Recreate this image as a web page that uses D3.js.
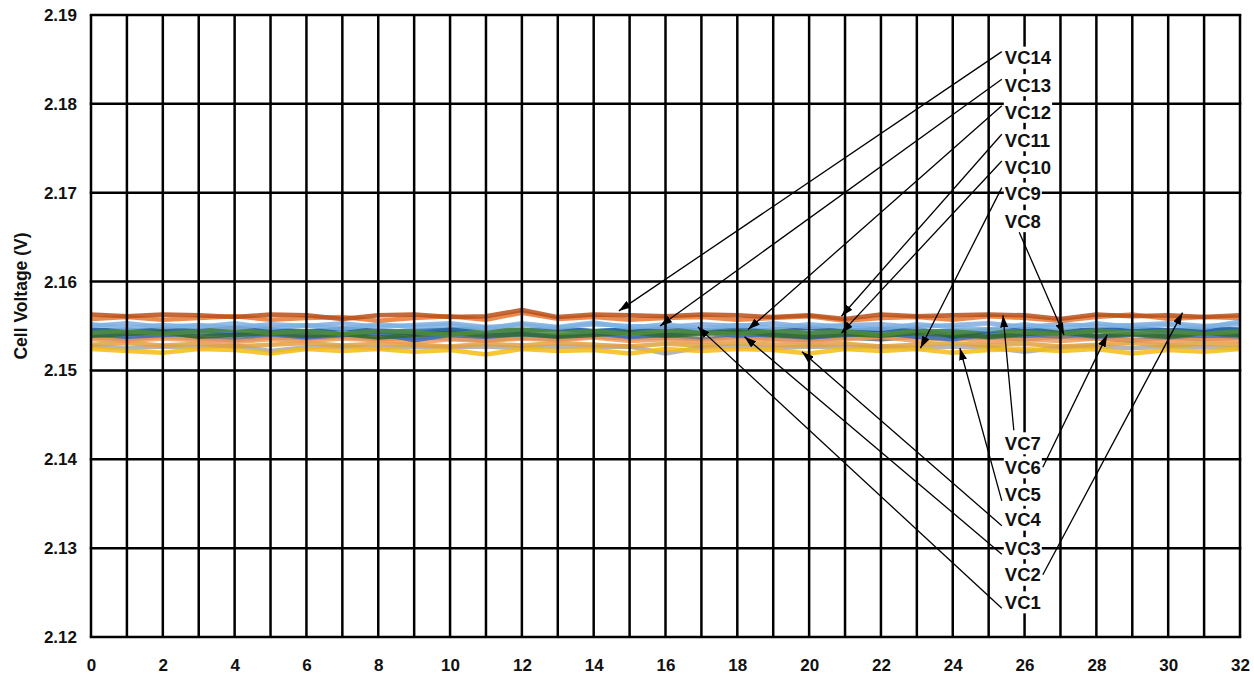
<!DOCTYPE html>
<html><head><meta charset="utf-8">
<script src="https://cdn.jsdelivr.net/npm/d3@7"></script>
<style>
body{margin:0;background:#fff}
svg{display:block}
text{font-family:"Liberation Sans",Arial,Helvetica,sans-serif;font-weight:bold;fill:#111}
</style>
</head><body>
<svg id="chart" width="1254" height="675"></svg>
<script>
// ---------- data ----------
const hours = [0,1,2,3,4,5,6,7,8,9,10,11,12,13,14,15,16,17,18,19,20,21,22,23,24,25,26,27,28,29,30,31,32];
const xTickValues = [0,2,4,6,8,10,12,14,16,18,20,22,24,26,28,30,32];
const yTickValues = [2.12,2.13,2.14,2.15,2.16,2.17,2.18,2.19];
const xGridValues = hours;

const seriesNames = ["VC1","VC2","VC3","VC4","VC5","VC6","VC7","VC8","VC9","VC10","VC11","VC12","VC13","VC14"];
const seriesColors = ["#3e6fc0","#e9772f","#a9a9a9","#f6bc12","#7eb2e2","#4f8c3a","#1e4d8e","#b8501a","#6b6b6b","#e3a13a","#2a6aa8","#2f6a2c","#84abe0","#f19a5c"];

const VC1  = [2.1541,2.1538,2.1540,2.1542,2.1539,2.1541,2.1537,2.1540,2.1542,2.1534,2.1540,2.1538,2.1541,2.1539,2.1542,2.1538,2.1540,2.1543,2.1539,2.1541,2.1537,2.1540,2.1542,2.1538,2.1535,2.1541,2.1539,2.1542,2.1538,2.1540,2.1541,2.1539,2.1540];
const VC2  = [2.1558,2.1560,2.1557,2.1559,2.1561,2.1557,2.1559,2.1560,2.1556,2.1559,2.1561,2.1557,2.1565,2.1558,2.1560,2.1557,2.1559,2.1560,2.1557,2.1559,2.1561,2.1556,2.1559,2.1560,2.1557,2.1561,2.1559,2.1556,2.1560,2.1563,2.1558,2.1560,2.1559];
const VC3  = [2.1527,2.1525,2.1527,2.1526,2.1528,2.1522,2.1526,2.1527,2.1525,2.1527,2.1526,2.1527,2.1525,2.1527,2.1526,2.1527,2.1519,2.1526,2.1527,2.1525,2.1527,2.1526,2.1527,2.1525,2.1527,2.1526,2.1521,2.1526,2.1527,2.1525,2.1527,2.1526,2.1525];
const VC4  = [2.1524,2.1522,2.1520,2.1524,2.1523,2.1519,2.1524,2.1522,2.1524,2.1521,2.1523,2.1518,2.1524,2.1522,2.1523,2.1519,2.1524,2.1522,2.1524,2.1523,2.1519,2.1524,2.1522,2.1524,2.1520,2.1523,2.1524,2.1522,2.1524,2.1519,2.1523,2.1521,2.1524];
const VC5  = [2.1552,2.1548,2.1551,2.1549,2.1553,2.1548,2.1551,2.1547,2.1552,2.1549,2.1551,2.1547,2.1553,2.1549,2.1554,2.1548,2.1552,2.1547,2.1551,2.1548,2.1552,2.1549,2.1547,2.1552,2.1549,2.1546,2.1552,2.1547,2.1553,2.1549,2.1551,2.1548,2.1555];
const VC6  = [2.1542,2.1545,2.1541,2.1544,2.1546,2.1542,2.1544,2.1541,2.1545,2.1543,2.1540,2.1544,2.1546,2.1542,2.1544,2.1541,2.1545,2.1543,2.1541,2.1545,2.1542,2.1544,2.1540,2.1545,2.1542,2.1546,2.1543,2.1541,2.1545,2.1542,2.1544,2.1541,2.1544];
const VC7  = [2.1546,2.1544,2.1547,2.1545,2.1548,2.1546,2.1543,2.1547,2.1545,2.1541,2.1546,2.1548,2.1545,2.1547,2.1544,2.1546,2.1548,2.1545,2.1542,2.1546,2.1548,2.1544,2.1546,2.1547,2.1538,2.1545,2.1547,2.1544,2.1546,2.1548,2.1545,2.1547,2.1546];
const VC8  = [2.1563,2.1561,2.1563,2.1562,2.1560,2.1563,2.1562,2.1558,2.1562,2.1563,2.1560,2.1561,2.1568,2.1560,2.1563,2.1562,2.1561,2.1563,2.1562,2.1560,2.1562,2.1558,2.1563,2.1561,2.1562,2.1563,2.1562,2.1558,2.1563,2.1561,2.1562,2.1560,2.1562];
const VC9  = [2.1537,2.1535,2.1538,2.1536,2.1534,2.1537,2.1536,2.1538,2.1535,2.1537,2.1536,2.1534,2.1537,2.1535,2.1538,2.1536,2.1537,2.1535,2.1538,2.1536,2.1534,2.1537,2.1535,2.1538,2.1536,2.1537,2.1535,2.1538,2.1536,2.1534,2.1537,2.1535,2.1537];
const VC10 = [2.1529,2.1531,2.1528,2.1530,2.1527,2.1529,2.1531,2.1528,2.1530,2.1529,2.1527,2.1530,2.1528,2.1531,2.1529,2.1527,2.1530,2.1528,2.1531,2.1529,2.1528,2.1530,2.1527,2.1529,2.1531,2.1528,2.1530,2.1527,2.1529,2.1531,2.1528,2.1530,2.1529];
const VC11 = [2.1544,2.1546,2.1543,2.1545,2.1542,2.1546,2.1544,2.1547,2.1543,2.1545,2.1546,2.1543,2.1545,2.1547,2.1544,2.1546,2.1543,2.1545,2.1547,2.1544,2.1542,2.1545,2.1547,2.1543,2.1545,2.1544,2.1546,2.1543,2.1545,2.1547,2.1544,2.1546,2.1545];
const VC12 = [2.1539,2.1541,2.1543,2.1538,2.1540,2.1542,2.1539,2.1541,2.1537,2.1540,2.1542,2.1539,2.1541,2.1538,2.1540,2.1543,2.1539,2.1541,2.1544,2.1540,2.1538,2.1541,2.1539,2.1542,2.1540,2.1538,2.1541,2.1543,2.1539,2.1541,2.1538,2.1542,2.1540];
const VC13 = [2.1550,2.1553,2.1549,2.1551,2.1548,2.1552,2.1550,2.1553,2.1549,2.1551,2.1553,2.1549,2.1551,2.1548,2.1552,2.1550,2.1549,2.1552,2.1550,2.1553,2.1549,2.1551,2.1552,2.1549,2.1551,2.1553,2.1549,2.1552,2.1550,2.1551,2.1553,2.1550,2.1552];
const VC14 = [2.1535,2.1533,2.1536,2.1534,2.1532,2.1535,2.1533,2.1536,2.1534,2.1531,2.1535,2.1533,2.1536,2.1534,2.1537,2.1533,2.1535,2.1532,2.1536,2.1534,2.1532,2.1535,2.1538,2.1533,2.1537,2.1532,2.1535,2.1533,2.1536,2.1534,2.1532,2.1535,2.1533];
const seriesValues = [VC1,VC2,VC3,VC4,VC5,VC6,VC7,VC8,VC9,VC10,VC11,VC12,VC13,VC14];
// drawing order (bottom to top)
const drawOrder = [2,3,9,8,13,0,6,10,11,5,12,4,1,7];

// annotation labels (position in data units) and arrow tips
const labelNames = ["VC14","VC13","VC12","VC11","VC10","VC9","VC8","VC7","VC6","VC5","VC4","VC3","VC2","VC1"];
const labelX = 25.45;
const labelV = [2.1852,2.1821,2.1791,2.1759,2.1729,2.1699,2.1668,2.1418,2.1391,2.1360,2.1332,2.1300,2.1270,2.1239];
const tipX = [14.7,15.85,18.3,20.9,20.9,23.1,27.1,25.4,28.3,24.2,19.8,18.2,30.4,16.9];
const tipV = [2.1567,2.1550,2.1546,2.1561,2.1542,2.1525,2.1540,2.1562,2.1540,2.1525,2.1521,2.1538,2.1565,2.1549];
const arrowSide = ["left","left","left","left","left","left","bottom","top","right","left","left","left","right","left"];

// ---------- chart ----------
const svg = d3.select("#chart");
const L = 91, R = 1240, T = 15, B = 637;
const x = d3.scaleLinear().domain([0,32]).range([L,R]);
const y = d3.scaleLinear().domain([2.12,2.19]).range([B,T]);

svg.append("defs").append("marker")
  .attr("id","arr").attr("viewBox","0 0 12 8").attr("refX",12).attr("refY",4)
  .attr("markerWidth",12).attr("markerHeight",8).attr("markerUnits","userSpaceOnUse")
  .attr("orient","auto")
  .append("path").attr("d","M0,0 L12,4 L0,8 Z").attr("fill","#000");

// series lines
const line = d3.line().x((d,i)=>x(hours[i])).y(d=>y(d));
const gLines = svg.append("g");
drawOrder.forEach(k=>{
  gLines.append("path").datum(seriesValues[k])
    .attr("d",line).attr("fill","none")
    .attr("stroke",seriesColors[k]).attr("stroke-width",4.5)
    .attr("stroke-linejoin","round").attr("opacity",0.85);
});

// grid
const gGrid = svg.append("g");
gGrid.selectAll("line.v").data(xGridValues).join("line")
  .attr("x1",d=>x(d)).attr("x2",d=>x(d)).attr("y1",T).attr("y2",B)
  .attr("stroke","#000").attr("stroke-width",2.5);
gGrid.selectAll("line.h").data(yTickValues).join("line")
  .attr("x1",L-1.25).attr("x2",R+1.25).attr("y1",d=>y(d)).attr("y2",d=>y(d))
  .attr("stroke","#000").attr("stroke-width",2.5);

// axes (labels only)
const yAxis = d3.axisLeft(y).tickValues(yTickValues).tickFormat(d3.format(".2f")).tickSize(0).tickPadding(14);
const gy = svg.append("g").attr("transform",`translate(${L},0)`).call(yAxis);
gy.select(".domain").remove();
gy.selectAll("text").attr("font-size",17).style("font-family",'"Liberation Sans",Arial,sans-serif').style("font-weight","bold").attr("fill","#111");

const xAxis = d3.axisBottom(x).tickValues(xTickValues).tickFormat(d3.format("d")).tickSize(0).tickPadding(22);
const gx = svg.append("g").attr("transform",`translate(0,${B})`).call(xAxis);
gx.select(".domain").remove();
gx.selectAll("text").attr("font-size",17).style("font-family",'"Liberation Sans",Arial,sans-serif').style("font-weight","bold").attr("fill","#111");

svg.append("text").attr("transform",`translate(27,296) rotate(-90)`)
  .attr("text-anchor","middle").attr("font-size",17.5).text("Cell Voltage (V)");

// annotations
const gAnn = svg.append("g");
labelNames.forEach((name,i)=>{
  const lx = x(labelX), ly = y(labelV[i]);
  const t = gAnn.append("text").attr("x",lx).attr("y",ly).attr("dy","0.36em")
    .attr("font-size",18.5).text(name);
  const bb = t.node().getBBox();
  gAnn.insert("rect","text").attr("x",bb.x-1).attr("y",ly-11).attr("width",bb.width+2).attr("height",22).attr("fill","#fff");
  let sx, sy;
  if (arrowSide[i]==="left"){ sx = bb.x-3; sy = ly + (tipV[i] > labelV[i] ? 6 : -6); }
  else if (arrowSide[i]==="right"){ sx = bb.x+bb.width+2; sy = ly; }
  else if (arrowSide[i]==="bottom"){ sx = bb.x+bb.width*0.4; sy = ly+11; }
  else { sx = bb.x+bb.width*0.25; sy = ly-13; }
  gAnn.append("line").attr("x1",sx).attr("y1",sy).attr("x2",x(tipX[i])).attr("y2",y(tipV[i]))
    .attr("stroke","#000").attr("stroke-width",1.3).attr("marker-end","url(#arr)");
});
</script>
</body></html>
